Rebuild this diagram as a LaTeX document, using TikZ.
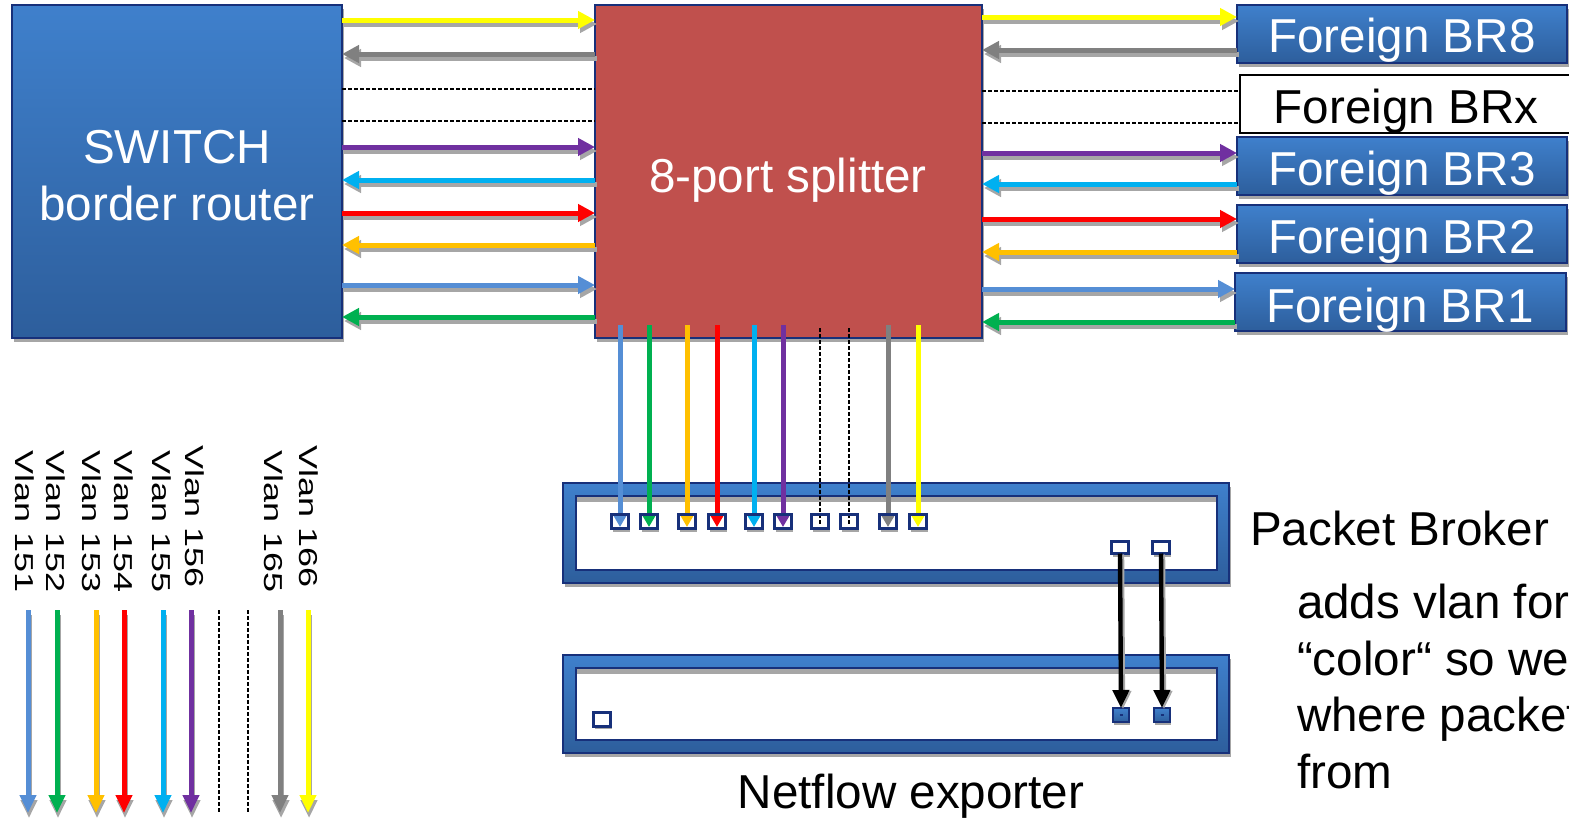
\documentclass[tikz,border=0pt]{standalone}
\usepackage{fontspec}
\setmainfont{Liberation Sans}
\usetikzlibrary{arrows.meta,shadows,calc}
\definecolor{cLB}{HTML}{558ED5}
\definecolor{cGR}{HTML}{00B050}
\definecolor{cOR}{HTML}{FFC000}
\definecolor{cRD}{HTML}{FF0000}
\definecolor{cCY}{HTML}{00B0F0}
\definecolor{cPU}{HTML}{7030A0}
\definecolor{cGY}{HTML}{808080}
\definecolor{cYE}{HTML}{FFFF00}
\definecolor{cSH}{HTML}{A6A6A6}
\definecolor{navy}{HTML}{17307A}
\definecolor{bluT}{HTML}{3F80CC}
\definecolor{bluB}{HTML}{2D5E9C}
\definecolor{splitred}{HTML}{C0504D}
\newcommand\sharr[3]{%
  \draw[arrsh] ($(#2)+(2,4)$) -- ($(#3)+(2,4)$);
  \draw[arrln,draw=#1] (#2) -- (#3);}
\begin{document}
\begin{tikzpicture}[x=0.5pt,y=-0.5pt,
  every node/.style={inner sep=0pt, outer sep=0pt},
  bigtxt/.style={font=\fontsize{23.8}{28}\selectfont},
  midtxt/.style={font=\fontsize{23.8}{28}\selectfont},
  boxshadow/.style={drop shadow={shadow xshift=1.2pt,shadow yshift=-2pt,fill=cSH,opacity=1}},
  bluebox/.style={draw=navy, line width=1pt, top color=bluT, bottom color=bluB, boxshadow, anchor=north west},
  redbox/.style={draw=navy, line width=1pt, fill=splitred, boxshadow, anchor=north west},
  whitebox/.style={draw=black, line width=1pt, fill=white, anchor=north west},
  frame/.style={draw=navy, line width=0.6pt, top color=bluT, bottom color=bluB, boxshadow, anchor=north west},
  innerbox/.style={draw=navy, line width=0.8pt, fill=white, anchor=north west},
  port/.style={draw=navy, line width=1.5pt, fill=white, minimum width=8.5pt, minimum height=7pt,
    drop shadow={shadow xshift=0.6pt,shadow yshift=-1.5pt,fill=cSH,opacity=1}},
  portline/.style={draw=navy, line width=1.5pt},
  bport/.style={draw=navy, line width=1pt, top color=bluT, bottom color=bluB, minimum width=8pt, minimum height=7pt,
    drop shadow={shadow xshift=0.6pt,shadow yshift=-1.5pt,fill=cSH,opacity=1}},
  arrln/.style={line width=2.5pt, -{Triangle[length=8.5pt,width=8.5pt]}},
  arrsh/.style={arrln, draw=cSH},
  varr/.style={line width=2.5pt, -{Triangle[length=6pt,width=6.5pt]}},
  legarr/.style={line width=2.5pt, -{Triangle[length=9pt,width=8pt]}},
  legsh/.style={legarr, draw=cSH},
  blkarr/.style={line width=2.2pt, draw=black, -{Triangle[length=9pt,width=8pt]}},
  blksh/.style={blkarr, draw=cSH},
  dotln/.style={draw=black, line width=0.8pt, dash pattern=on 2pt off 1pt},
  vlan/.style={rotate=-90, anchor=base west, font=\fontsize{18}{20}\selectfont}
]
\useasboundingbox (0,0) rectangle (1569,819);
\clip (0,0) rectangle (1569,819);

% main boxes
\node[bluebox, minimum width=165pt, minimum height=166.5pt] (sw) at (12,5) {};
\node[redbox, minimum width=193.5pt, minimum height=166.5pt] (sp) at (595,5) {};
\node[bluebox, minimum width=165pt, minimum height=29pt] (br8) at (1237,5) {};
\node[whitebox, minimum width=172pt, minimum height=29pt] (brx) at (1240,75) {};
\node[bluebox, minimum width=165pt, minimum height=29pt] (br3) at (1237,137) {};
\node[bluebox, minimum width=165pt, minimum height=29pt] (br2) at (1237,205) {};
\node[bluebox, minimum width=165.5pt, minimum height=29pt] (br1) at (1235,273) {};

% texts
\node[bigtxt, text=white, anchor=base] (tsw1) at (177,163) {SWITCH};
\node[bigtxt, text=white, anchor=base] (tsw2) at (177,220) {border router};
\node[bigtxt, text=white, anchor=base] (tsp) at (788,192) {8-port splitter};
\node[bigtxt, text=white, anchor=base] (tbr8) at (1402,53) {Foreign BR8};
\node[bigtxt, text=black, anchor=base] (tbrx) at (1406,123) {Foreign BRx};
\node[bigtxt, text=white, anchor=base] (tbr3) at (1402,185) {Foreign BR3};
\node[bigtxt, text=white, anchor=base] (tbr2) at (1402,253) {Foreign BR2};
\node[bigtxt, text=white, anchor=base] (tbr1) at (1400,322) {Foreign BR1};

% left arrows
\sharr{cYE}{sw.east |- 0,20}{sp.west |- 0,20}
\sharr{cGY}{sp.west |- 0,54}{sw.east |- 0,54}
\draw[dotln] (sw.east |- 0,89) -- (sp.west |- 0,89);
\draw[dotln] (sw.east |- 0,121) -- (sp.west |- 0,121);
\sharr{cPU}{sw.east |- 0,147}{sp.west |- 0,147}
\sharr{cCY}{sp.west |- 0,180}{sw.east |- 0,180}
\sharr{cRD}{sw.east |- 0,213}{sp.west |- 0,213}
\sharr{cOR}{sp.west |- 0,245}{sw.east |- 0,245}
\sharr{cLB}{sw.east |- 0,285}{sp.west |- 0,285}
\sharr{cGR}{sp.west |- 0,317}{sw.east |- 0,317}

% right arrows
\sharr{cYE}{sp.east |- 0,17}{br8.west |- 0,17}
\sharr{cGY}{br8.west |- 0,50}{sp.east |- 0,50}
\draw[dotln] (sp.east |- 0,91) -- (brx.west |- 0,91);
\draw[dotln] (sp.east |- 0,123) -- (brx.west |- 0,123);
\sharr{cPU}{sp.east |- 0,153}{br3.west |- 0,153}
\sharr{cCY}{br3.west |- 0,184}{sp.east |- 0,184}
\sharr{cRD}{sp.east |- 0,219}{br2.west |- 0,219}
\sharr{cOR}{br2.west |- 0,252}{sp.east |- 0,252}
\sharr{cLB}{sp.east |- 0,289}{br1.west |- 0,289}
\sharr{cGR}{br1.west |- 0,322}{sp.east |- 0,322}

% packet broker and netflow frames
\node[frame, minimum width=333pt, minimum height=50pt] (pb) at (563,483) {};
\node[innerbox, minimum width=320.5pt, minimum height=37pt] (pbi) at (576,496) {};
\fill[cSH] ($(pbi.north west)+(1,1)$) rectangle ($(pbi.north east)+(-1,6)$);
\node[frame, minimum width=333pt, minimum height=49pt] (nf) at (563,655) {};
\node[innerbox, minimum width=320.5pt, minimum height=36pt] (nfi) at (576,668) {};
\fill[cSH] ($(nfi.north west)+(1,1)$) rectangle ($(nfi.north east)+(-1,6)$);

% ports on packet broker
\foreach \x [count=\i] in {620,649,687,717,754,783,820,849,888,918}
  \node[port] (p\i) at (\x,521.5) {};
\foreach \p/\c in {p1/cLB,p2/cGR,p3/cOR,p4/cRD,p5/cCY,p6/cPU,p9/cGY,p10/cYE}
  \draw[varr,draw=\c] ($(\p |- sp.south)+(0,-13)$) -- ($(\p)+(0,5.5)$);
\foreach \p in {p7,p8}
  \draw[dotln] ($(\p |- sp.south)+(0,-10)$) -- ($(\p)+(0,2)$);
\foreach \i in {1,...,10}
  \draw[portline] (p\i.north west) rectangle (p\i.south east);

\node[port, minimum height=6pt] (q1) at (1120,547.5) {};
\node[port, minimum height=6pt] (q2) at (1161,547.5) {};
\node[port] (n0) at (602,719) {};
\node[bport] (n1) at (1121,715) {};
\node[bport] (n2) at (1162,715) {};
\draw[navy, line width=0.8pt] ($(n1)+(-1.5,0)$) -- ($(n1)+(1.5,0)$);
\draw[navy, line width=0.8pt] ($(n2)+(-1.5,0)$) -- ($(n2)+(1.5,0)$);
\draw[blksh] ($(q1.south)+(2,1)$) -- ($(n1.north)+(2,1)$);
\draw[blkarr] (q1.south) -- (n1.north);
\draw[blksh] ($(q2.south)+(2,1)$) -- ($(n2.north)+(2,1)$);
\draw[blkarr] (q2.south) -- (n2.north);

% right side texts
\node[midtxt, anchor=base west] (tpb) at (1250,545) {Packet Broker};
\node[midtxt, anchor=base west] (d1) at (1297,618) {adds vlan for};
\node[midtxt, anchor=base west] (d2) at (1297,675) {“color“ so we};
\node[midtxt, anchor=base west] (d3) at (1297,731) {where packet};
\node[midtxt, anchor=base west] (d4) at (1297,788) {from};
\node[midtxt, anchor=base] (tnf) at (911,808) {Netflow exporter};

% legend
\foreach \bx/\sy/\t in {15/450/151, 47/450/152, 82/450/153, 114/450/154, 152/450/155, 185/445/156, 264/450/165, 299/445/166}
  \node[vlan] (v\t) at (\bx,\sy) {\scalebox{1}[0.72]{Vlan \t}};
\foreach \x/\c [count=\i] in {28/cLB,57/cGR,96/cOR,124/cRD,163/cCY,191/cPU,280/cGY,308/cYE} {
  \coordinate (ls\i) at (\x,610);
  \coordinate (le\i) at (\x,813);
  \draw[legsh] ($(ls\i)+(1,5)$) -- ($(le\i)+(1,5)$);
  \draw[legarr,draw=\c] (ls\i) -- (le\i);
}
\coordinate (ld1s) at (219,610); \coordinate (ld1e) at (219,812);
\coordinate (ld2s) at (248,610); \coordinate (ld2e) at (248,812);
\draw[dotln] (ld1s) -- (ld1e);
\draw[dotln] (ld2s) -- (ld2e);
\end{tikzpicture}
\end{document}
